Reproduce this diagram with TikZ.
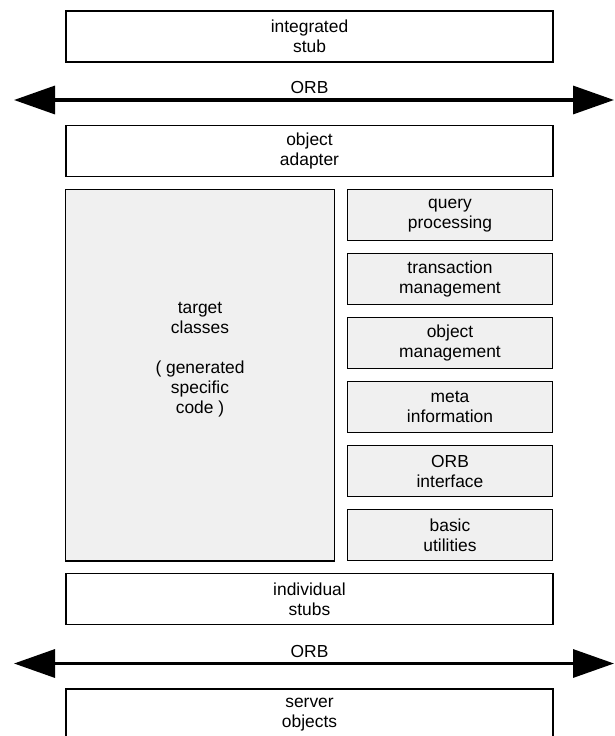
\documentclass[tikz,border=0pt]{standalone}
\usepackage{fontspec}
\setmainfont{Liberation Sans}
\usetikzlibrary{arrows.meta}
\definecolor{lightgrey}{HTML}{F0F0F0}

\begin{document}
\begin{tikzpicture}[x=1pt, y=-1pt,
  txt/.style={font=\fontsize{17.4}{20}\selectfont, align=center, inner sep=0pt},
  layer/.style={txt, draw=black, line width=1.5pt, fill=white, minimum width=487pt, minimum height=51pt},
  service/.style={layer, fill=lightgrey, minimum width=205.4pt},
  orbline/.style={line width=3.3pt, {Triangle[length=41pt,width=28pt]}-{Triangle[length=41pt,width=28pt]}}]
\useasboundingbox (0,0) rectangle (615,736);
% client side
\node[layer] (stub) at (309.5,36.5) {integrated\\stub};
\coordinate (orbtopL) at (14,100);
\coordinate (orbtopR) at (614,100);
\draw[orbline] (orbtopL) -- (orbtopR);
\node[txt] (orbtop) at (309.5,88) {ORB};
% server side
\node[layer] (adapter) at (309.5,151.2) {object\\adapter};
\node[layer, fill=lightgrey, minimum width=268.6pt, minimum height=371.7pt] (target) at (200,375.2) {};
\node[txt] (targettext) at (200,359.5) {target\\classes\\[20pt]( generated\\specific\\code )};
\node[service] (query) at (450,215.2) {query\\processing};
\node[service] (trans) at (450,279.2) {transaction\\management};
\node[service] (objman) at (450,343.2) {object\\management};
\node[service] (meta) at (450,407.2) {meta\\information};
\node[service] (orbif) at (450,471.2) {ORB\\interface};
\node[service] (basic) at (450,535.2) {basic\\utilities};
\node[layer] (indiv) at (309.5,599.2) {individual\\stubs};
\coordinate (orbbotL) at (14,663.5);
\coordinate (orbbotR) at (614,663.5);
\draw[orbline] (orbbotL) -- (orbbotR);
\node[txt] (orbbot) at (309.5,651.5) {ORB};
\node[layer] (server) at (309.5,714.5) {server\\objects};
\end{tikzpicture}
\end{document}
